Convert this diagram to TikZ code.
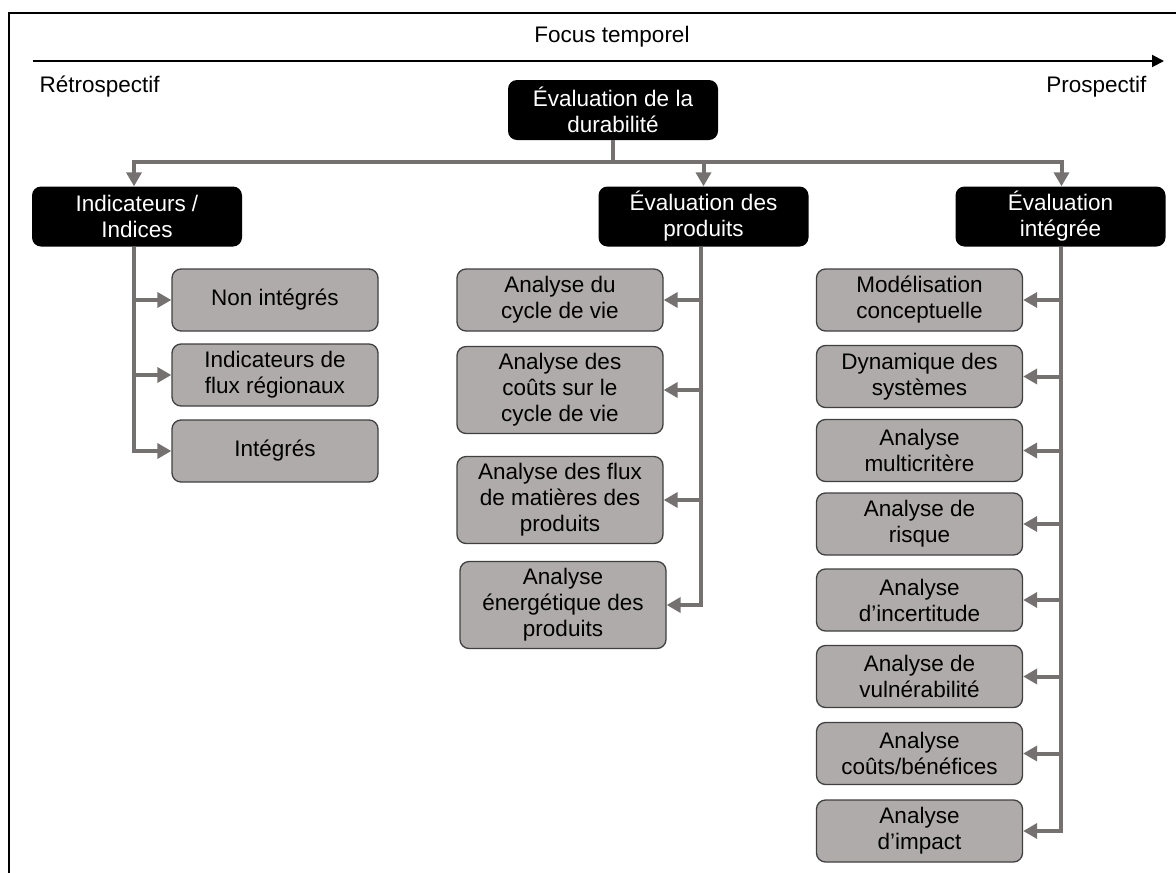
\documentclass[tikz,border=0pt]{standalone}
\usepackage{fontspec}
\setmainfont{Liberation Sans}
\usepackage{xcolor}
\usetikzlibrary{arrows.meta}
\definecolor{leafgray}{RGB}{175,171,171}
\definecolor{linkgray}{RGB}{118,113,113}
\definecolor{edgegray}{RGB}{64,64,64}

\begin{document}
\begin{tikzpicture}[
  x=1pt, y=-1pt,
  txt/.style={font=\fontsize{22.5}{26}\selectfont},
  head/.style={txt, fill=black, text=white, rounded corners=9pt, align=center,
    minimum width=210pt, minimum height=60pt, inner sep=2pt},
  leaf/.style={txt, fill=leafgray, draw=edgegray, line width=1.3pt, rounded corners=9pt,
    align=center, minimum width=206pt, minimum height=62pt, inner xsep=2pt, inner ysep=7pt},
  bus/.style={linkgray, line width=4pt},
  arr/.style={bus, -{Triangle[width=15pt,length=14pt]}},
  ax/.style={line width=2pt, -{Triangle[width=12pt,length=12pt]}}
]
\useasboundingbox (0,0) rectangle (1176,873);
\draw[line width=2pt] (1176,13) -- (9,13) -- (9,873);

\coordinate (t0) at (33,61);
\coordinate (t1) at (1164,61);
\draw[ax] (t0) -- (t1);
\node[txt] (focus) at (612,37) {Focus temporel};
\node[txt, anchor=west] (retro) at (36,87) {Rétrospectif};
\node[txt, anchor=east] (pros) at (1150,87) {Prospectif};

\node[head] (root) at (613,110) {Évaluation de la\\durabilité};
\node[head] (ind)  at (137,216.5) {Indicateurs /\\Indices};
\node[head] (prod) at (703.5,216.5) {Évaluation des\\produits};
\node[head] (integ) at (1060.5,216.5) {Évaluation\\intégrée};

\coordinate (fork) at (613,162);
\draw[bus] (root) -- (fork);
\draw[arr] (fork) -| ([xshift=-3pt]ind.north);
\draw[arr] (fork) -| (prod);
\draw[arr] (fork) -| ([xshift=1pt]integ.north);

\node[leaf] (nonint) at (275,300) {Non intégrés};
\node[leaf] (flux)   at (275,375) {Indicateurs de\\flux régionaux};
\node[leaf] (integr) at (275,451) {Intégrés};

\draw[arr] ([xshift=-3pt]ind.south) |- (nonint);
\draw[arr] ([xshift=-3pt]ind.south) |- (flux);
\draw[arr] ([xshift=-3pt]ind.south) |- (integr);

\node[leaf] (acv)  at (560,300) {Analyse du\\cycle de vie};
\node[leaf] (accv) at (560,390) {Analyse des\\coûts sur le\\cycle de vie};
\node[leaf] (afmp) at (560,500) {Analyse des flux\\de matières des\\produits};
\node[leaf] (aep)  at (563,605) {Analyse\\énergétique des\\produits};

\draw[arr] ([xshift=-3pt]prod.south) |- (acv);
\draw[arr] ([xshift=-3pt]prod.south) |- (accv);
\draw[arr] ([xshift=-3pt]prod.south) |- (afmp);
\draw[arr] ([xshift=-3pt]prod.south) |- (aep);

\node[leaf] (modc) at (919.5,300) {Modélisation\\conceptuelle};
\node[leaf] (dyn)  at (919.5,376.5) {Dynamique des\\systèmes};
\node[leaf] (amc)  at (919.5,450.5) {Analyse\\multicritère};
\node[leaf] (ar)   at (919.5,524) {Analyse de\\risque};
\node[leaf] (ai)   at (919.5,600) {Analyse\\d’incertitude};
\node[leaf] (av)   at (919.5,676.5) {Analyse de\\vulnérabilité};
\node[leaf] (acb)  at (919.5,753.5) {Analyse\\coûts/bénéfices};
\node[leaf] (aimp) at (919.5,831) {Analyse\\d’impact};

\foreach \b in {modc,dyn,amc,ar,ai,av,acb,aimp}
  \draw[arr] (integ.south) |- (\b);

\end{tikzpicture}
\end{document}
